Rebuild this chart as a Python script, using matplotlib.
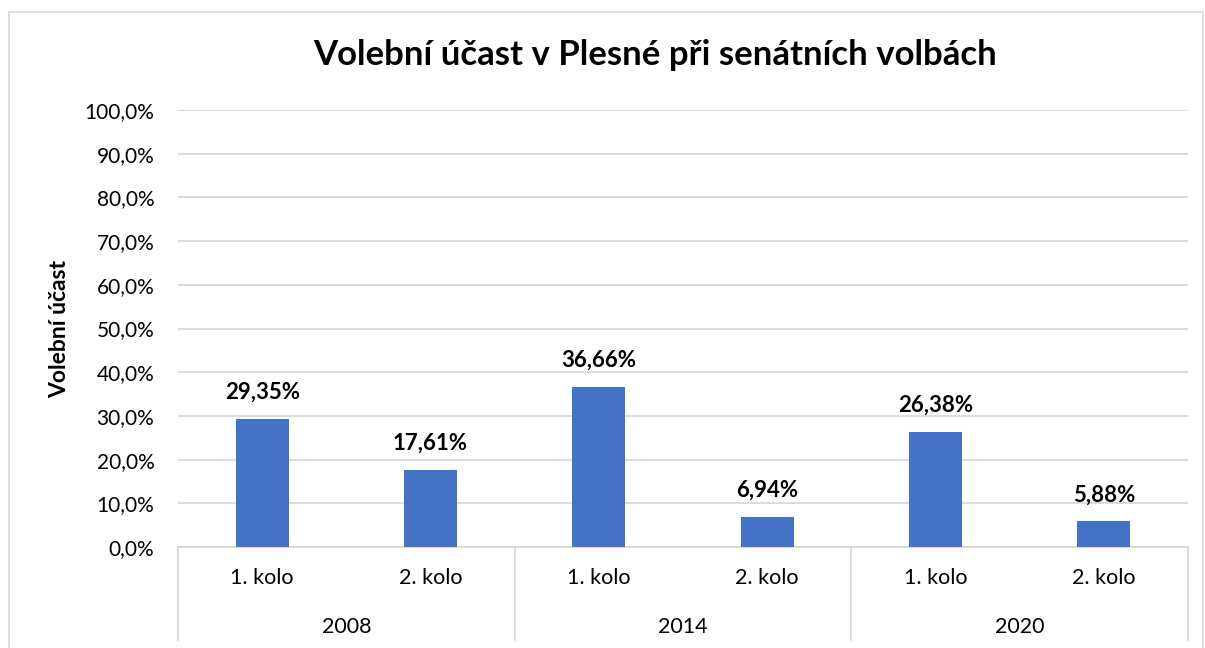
import matplotlib.pyplot as plt
from matplotlib.patches import Rectangle

plt.rcParams['font.family'] = ['Lato', 'DejaVu Sans']

# Data
years = ["2008", "2014", "2020"]
rounds = ["1. kolo", "2. kolo"]
turnout = [29.35, 17.61, 36.66, 6.94, 26.38, 5.88]

labels = [r for y in years for r in rounds]
x = list(range(len(turnout)))

fig = plt.figure(figsize=(12.05, 6.48), dpi=100)
ax = fig.add_axes([178 / 1205, 1 - 547 / 648, (1188 - 178) / 1205, (547 - 110) / 648])

# figure border
fig.patches.append(Rectangle((9 / 1205, -0.01), (1203 - 9) / 1205, 1 - 12 / 648 + 0.01,
                             transform=fig.transFigure, fill=False,
                             edgecolor="#d9d9d9", linewidth=1.2))

ax.bar(x, turnout, width=0.315, color="#4472c4", zorder=3)

for xi, v in zip(x, turnout):
    ax.annotate(f"{v:.2f}%".replace(".", ","), (xi, v), xytext=(0, 19),
                textcoords="offset points", ha="center", va="center",
                fontsize=16, fontweight="bold", color="black")

ax.set_xlim(-0.5, len(turnout) - 0.5)
ax.set_ylim(0, 100)
ax.set_yticks(range(0, 101, 10))
ax.set_yticklabels([f"{t},0%" for t in range(0, 101, 10)], fontsize=15)
ax.yaxis.grid(True, color="#d9d9d9", linewidth=1.3, zorder=0)
ax.tick_params(axis="y", length=0, pad=17)
ax.set_xticks([])
for s in ["top", "right", "left"]:
    ax.spines[s].set_visible(False)
ax.spines["bottom"].set_color("#d9d9d9")
ax.spines["bottom"].set_linewidth(1.3)

# multi-level category axis
trans = ax.get_xaxis_transform()
low = (547 - 640) / (547 - 110)
for b in [-0.5, 1.5, 3.5, 5.5]:
    ax.plot([b, b], [0, low], transform=trans, color="#d9d9d9", linewidth=1.3, clip_on=False)
for xi, lab in zip(x, labels):
    ax.text(xi, (547 - 578) / 437, lab, transform=trans, ha="center", va="center", fontsize=15.5)
for i, yr in enumerate(years):
    ax.text(2 * i + 0.5, (547 - 627) / 437, yr, transform=trans, ha="center", va="center", fontsize=15.5)

ax.set_ylabel("Volební účast", fontsize=16.5, fontweight="bold")
ax.yaxis.set_label_coords(-(178 - 70) / 1010, 0.5)

fig.text(655 / 1205, 1 - 55 / 648, "Volební účast v Plesné při senátních volbách",
         ha="center", va="center", fontsize=25, fontweight="bold")

fig.savefig("out.png", dpi=100)
